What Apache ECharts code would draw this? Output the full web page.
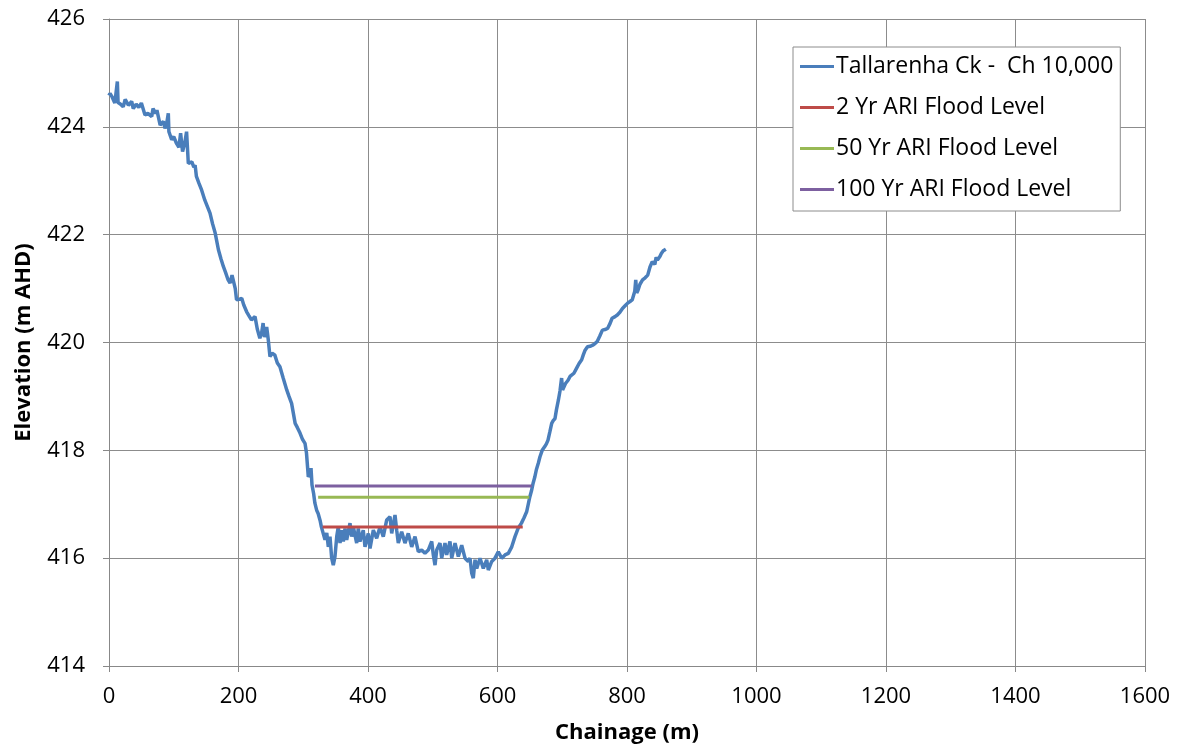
<!DOCTYPE html>
<html>
<head>
<meta charset="utf-8">
<script src="https://cdn.jsdelivr.net/npm/echarts@6/dist/echarts.min.js"></script>
<style>html,body{margin:0;padding:0;background:#fff;}#c{width:1183px;height:753px;}</style>
</head>
<body>
<div id="c"></div>
<script>
// Terrain profile (chainage m, elevation m AHD)
var chainage = [0,1.5,5,9,12.9,14,18,22,25,30,35,37.5,42,46,50,55.6,60,66,68,72,74,79,84,86.5,89,91.6,92.5,96.8,100,104,108,110.6,113.6,117,119.8,122.5,128,131,133,135,139,143,148,152,156,160,164,169,173,176.6,180,184,187,190,192,195,197,201,205,208,212.6,216,220,225.5,229,233,236,238,240,243.5,246,248.6,252,256,260,264,269,274.5,278,282,287.5,291,295,299,302.7,305,307.8,310,312,313.5,316,318,320.7,323,326,328,330.6,333.6,336.3,338.7,341.3,343.9,346.4,349,351.7,354.1,356.8,359.4,361.9,364.5,367.1,372.2,374.8,377.3,382.5,385,387.6,392.7,395.4,400.5,403.1,408.2,413.4,418.5,423.6,428.9,434,436.6,441.7,444.3,446.8,452,457.1,462.2,467.5,472.6,477.7,482.9,488,493.1,498.4,500.9,503.5,506.1,511.2,513.8,518.9,521.5,526.6,529.3,534.4,539.5,544.7,549.8,554.9,557.5,560.2,562.6,565.3,567.9,573,578.1,583.3,585.8,591.1,596.1,601.2,606.5,611.6,616.7,622,627,632.1,637,641,645,647.5,650,652.5,655,657.5,660,663,665.6,669,673,675.5,678,681,683.7,686,688.8,691,694,696.5,699,700.5,701.6,705,709,712,714.6,718,722,726,730,732.5,735,739,743,747,750.6,754,758,762,766,770,773.7,777,781.5,785,789,793,797,801,804.6,808,812,813.5,815,817,820,824,828,832,835.5,839,843,845,847,851,853,856,860,864];
var elevation = [424.58,424.62,424.55,424.44,424.84,424.45,424.42,424.37,424.51,424.40,424.47,424.34,424.42,424.36,424.44,424.22,424.25,424.19,424.34,424.25,424.31,424.03,424.10,423.97,424.05,424.25,423.91,423.76,423.82,423.70,423.62,423.88,423.54,423.70,423.91,423.32,423.35,423.25,423.29,423.08,422.95,422.83,422.64,422.52,422.40,422.20,422.03,421.72,421.55,421.41,421.30,421.16,421.10,421.25,421.28,421.00,420.79,420.80,420.82,420.70,420.57,420.50,420.42,420.48,420.25,420.08,420.20,420.36,420.10,420.29,420.05,419.74,419.80,419.77,419.62,419.55,419.34,419.12,419.00,418.87,418.50,418.42,418.32,418.20,418.13,417.95,417.51,417.55,417.67,417.36,417.20,417.02,416.89,416.83,416.70,416.58,416.585,416.34,416.47,416.21,416.40,416.00,415.87,416.03,416.40,416.58,416.28,416.52,416.31,416.55,416.34,416.65,416.40,416.58,416.28,416.55,416.31,416.52,416.21,416.46,416.18,416.52,416.37,416.58,416.40,416.71,416.77,416.46,416.80,416.52,416.28,416.49,416.28,416.46,416.21,416.40,416.12,416.15,416.09,416.15,416.31,416.06,415.87,416.15,416.28,416.00,416.28,416.06,416.31,416.00,416.28,416.03,416.24,416.00,415.94,416.00,415.72,415.63,415.97,415.81,416.00,415.81,415.97,415.78,415.94,416.00,416.12,416.00,416.06,416.09,416.21,416.40,416.56,416.65,416.75,416.86,417.00,417.14,417.25,417.39,417.50,417.64,417.76,417.88,418.00,418.07,418.12,418.19,418.35,418.50,418.55,418.59,418.75,418.93,419.10,419.34,419.12,419.15,419.24,419.30,419.37,419.40,419.43,419.52,419.61,419.68,419.77,419.85,419.92,419.93,419.95,419.98,420.02,420.12,420.23,420.24,420.26,420.35,420.45,420.48,420.51,420.56,420.63,420.68,420.73,420.76,420.79,420.95,421.16,420.92,420.97,421.08,421.16,421.20,421.25,421.40,421.50,421.45,421.58,421.53,421.60,421.65,421.70,421.73];

// Flood levels [start chainage, end chainage], level
var ari2Chainage = [330, 639];
var ari2Level = 416.58;
var ari50Chainage = [323, 649];
var ari50Level = 417.13;
var ari100Chainage = [318, 653];
var ari100Level = 417.34;

var seriesNames = ['Tallarenha Ck -  Ch 10,000', '2 Yr ARI Flood Level', '50 Yr ARI Flood Level', '100 Yr ARI Flood Level'];
var colors = ['#4a7ebb', '#be4b48', '#98b954', '#7d60a0'];

var terrain = chainage.map(function (x, i) { return [x, elevation[i]]; });
function flat(ch, lv) { return [[ch[0], lv], [ch[1], lv]]; }

var FONT = 'Open Sans';
var chart = echarts.init(document.getElementById('c'), null, { renderer: 'canvas' });
chart.setOption({
  backgroundColor: '#ffffff',
  animation: false,
  color: colors,
  grid: { left: 109, right: 38, top: 19, bottom: 87, containLabel: false },
  legend: {
    orient: 'vertical',
    left: 793, top: 47,
    padding: [8, 7, 10, 7],
    itemGap: 18,
    itemWidth: 34, itemHeight: 3,
    icon: 'rect',
    backgroundColor: '#ffffff',
    borderColor: '#8c8c8c', borderWidth: 1,
    textStyle: { fontFamily: FONT, fontSize: 23, lineHeight: 23, color: '#000', padding: [0, 0, 0, -3] },
    data: seriesNames
  },
  xAxis: {
    type: 'value', min: 0, max: 1600, interval: 200,
    name: 'Chainage (m)', nameLocation: 'middle', nameGap: 56,
    nameTextStyle: { fontFamily: FONT, fontSize: 22, fontWeight: 'bold', color: '#000' },
    axisLine: { show: true, lineStyle: { color: '#888', width: 1 } },
    axisTick: { show: true, length: 6, lineStyle: { color: '#888' } },
    axisLabel: { fontFamily: FONT, fontSize: 22, color: '#000', margin: 20, formatter: function (v) { return String(v); } },
    splitLine: { show: true, lineStyle: { color: '#8c8c8c', width: 1 } }
  },
  yAxis: {
    type: 'value', min: 414, max: 426, interval: 2,
    name: 'Elevation (m AHD)', nameLocation: 'middle', nameGap: 74, nameRotate: 90,
    nameTextStyle: { fontFamily: FONT, fontSize: 22, fontWeight: 'bold', color: '#000' },
    axisLine: { show: true, lineStyle: { color: '#888', width: 1 } },
    axisTick: { show: true, length: 6, lineStyle: { color: '#888' } },
    axisLabel: { fontFamily: FONT, fontSize: 22, color: '#000', margin: 24 },
    splitLine: { show: true, lineStyle: { color: '#8c8c8c', width: 1 } }
  },
  series: [
    { name: seriesNames[0], type: 'line', data: terrain, showSymbol: false, symbol: 'none', lineStyle: { width: 3.5, color: colors[0] }, z: 3 },
    { name: seriesNames[1], type: 'line', data: flat(ari2Chainage, ari2Level), showSymbol: false, symbol: 'none', lineStyle: { width: 3, color: colors[1] }, z: 4 },
    { name: seriesNames[2], type: 'line', data: flat(ari50Chainage, ari50Level), showSymbol: false, symbol: 'none', lineStyle: { width: 3, color: colors[2] }, z: 4 },
    { name: seriesNames[3], type: 'line', data: flat(ari100Chainage, ari100Level), showSymbol: false, symbol: 'none', lineStyle: { width: 3, color: colors[3] }, z: 4 }
  ]
});
</script>
</body>
</html>
